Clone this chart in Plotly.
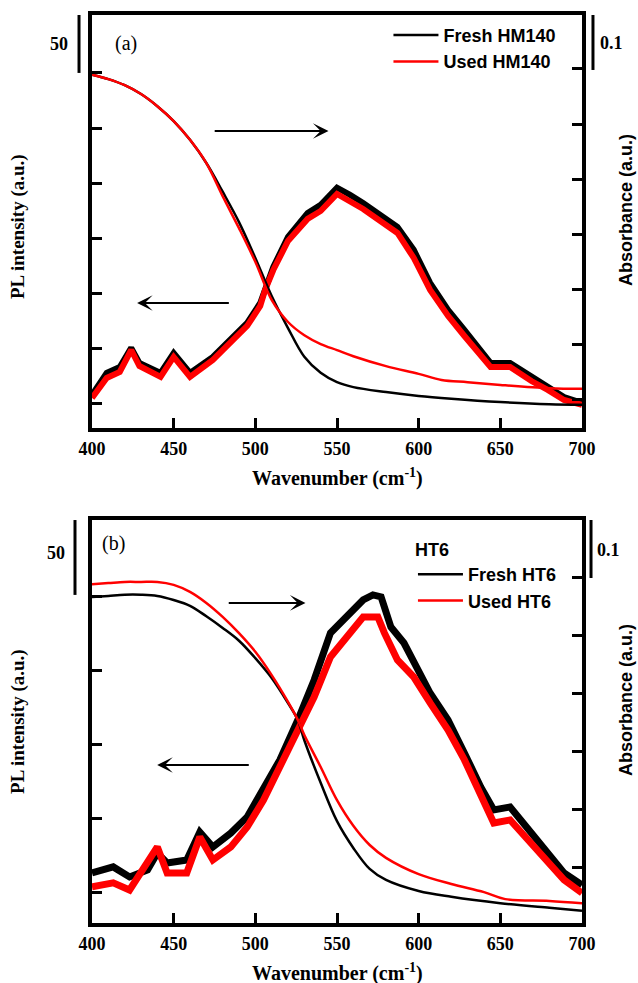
import plotly.graph_objects as go
from plotly.subplots import make_subplots

SERIF = "Liberation Serif, Times New Roman, serif"
SANS = "Liberation Sans, Arial, sans-serif"
RED = "rgb(255,0,0)"
BLACK = "black"

# ---------------- Panel (a) : HM140 ----------------
a_abs_fresh_w = [400, 410, 420, 430, 440, 450, 460, 470, 480, 490, 500, 510, 520, 530, 540, 550, 560, 580, 600, 620, 650, 680, 700]
a_abs_fresh = [0.640, 0.632, 0.621, 0.605, 0.583, 0.556, 0.522, 0.480, 0.428, 0.373, 0.308, 0.239, 0.181, 0.129, 0.100, 0.083, 0.074, 0.065, 0.058, 0.053, 0.047, 0.043, 0.042]
a_abs_used_w = [400, 410, 420, 430, 440, 450, 460, 470, 480, 490, 500, 510, 520, 530, 540, 550, 560, 580, 600, 614, 630, 650, 680, 700]
a_abs_used = [0.640, 0.632, 0.621, 0.605, 0.583, 0.556, 0.522, 0.480, 0.420, 0.362, 0.301, 0.232, 0.192, 0.168, 0.152, 0.141, 0.130, 0.112, 0.098, 0.087, 0.083, 0.078, 0.072, 0.071]

a_pl_w = [400, 409, 417, 424, 429, 442, 450, 460, 474, 485, 495, 503, 506, 511, 520, 532, 540, 550, 558, 566, 587, 597, 607, 618, 628, 638, 644, 656, 669, 679, 689, 700]
a_pl_fresh = [8.2, 28.1, 33.5, 50.8, 37.2, 28.1, 46.2, 28.1, 42.6, 58.0, 73.4, 91.5, 105.1, 124.2, 151.4, 173.1, 180.4, 196.0, 189.5, 182.2, 160.4, 139.6, 109.7, 85.2, 67.1, 48.9, 37.2, 37.2, 24.5, 15.4, 6.3, 0.9]
a_pl_used = [5.4, 23.6, 29.0, 48.9, 34.4, 24.5, 42.6, 24.5, 39.9, 55.3, 70.7, 88.8, 103.3, 121.4, 147.7, 167.7, 174.9, 190.3, 184.0, 176.7, 155.0, 132.3, 103.3, 79.8, 61.6, 45.3, 33.5, 33.5, 20.8, 12.7, 3.6, -0.9]

# ---------------- Panel (b) : HT6 ----------------
b_abs_fresh_w = [400, 410, 420, 430, 440, 450, 460, 470, 480, 490, 500, 510, 520, 526, 530, 540, 550, 560, 570, 580, 600, 620, 650, 680, 700]
b_abs_fresh = [0.560, 0.562, 0.564, 0.564, 0.562, 0.555, 0.545, 0.527, 0.507, 0.485, 0.455, 0.421, 0.378, 0.349, 0.314, 0.241, 0.175, 0.129, 0.093, 0.074, 0.055, 0.045, 0.034, 0.026, 0.021]
b_abs_used_w = [400, 410, 420, 430, 440, 450, 460, 470, 480, 490, 500, 510, 520, 526, 530, 540, 550, 560, 570, 580, 600, 620, 640, 653, 680, 700]
b_abs_used = [0.582, 0.584, 0.586, 0.586, 0.586, 0.581, 0.569, 0.550, 0.526, 0.498, 0.466, 0.426, 0.380, 0.349, 0.323, 0.268, 0.211, 0.167, 0.134, 0.112, 0.084, 0.067, 0.053, 0.041, 0.038, 0.034]

b_pl_fresh_w = [400, 413, 423, 434, 440, 446, 458, 466, 474, 485, 495, 505, 515, 526, 536, 546, 556, 566, 572, 577, 583, 591, 607, 618, 628, 638, 646, 656, 669, 679, 689, 700]
b_pl_fresh = [13.5, 17.6, 10.8, 15.5, 27.0, 20.3, 22.3, 41.2, 31.1, 40.5, 51.4, 69.6, 89.9, 116.9, 143.9, 175.7, 186.5, 198.0, 201.4, 200.0, 179.7, 168.9, 135.1, 116.9, 94.6, 71.6, 56.1, 58.1, 40.5, 27.0, 13.5, 5.4]
b_pl_used_w = [400, 413, 423, 440, 446, 458, 466, 474, 485, 495, 505, 515, 526, 536, 546, 556, 566, 575, 579, 587, 597, 607, 618, 628, 638, 646, 656, 669, 679, 689, 700]
b_pl_used = [4.1, 6.8, 2.0, 31.1, 13.5, 13.5, 37.8, 22.3, 31.1, 44.6, 62.8, 85.1, 110.1, 132.4, 159.5, 173.0, 186.5, 186.5, 175.7, 157.4, 145.9, 128.4, 110.1, 89.9, 67.6, 47.3, 49.3, 33.8, 20.3, 8.8, 0.0]

x_ticks = [400, 450, 500, 550, 600, 650, 700]

fig = make_subplots(rows=2, cols=1, specs=[[{"secondary_y": True}], [{"secondary_y": True}]])

# panel a: PL (left axis, noisy) and absorbance (right axis)
fig.add_trace(go.Scatter(x=a_pl_w, y=a_pl_fresh, mode="lines", line=dict(color=BLACK, width=6),
                         showlegend=False), row=1, col=1, secondary_y=False)
fig.add_trace(go.Scatter(x=a_pl_w, y=a_pl_used, mode="lines", line=dict(color=RED, width=6),
                         showlegend=False), row=1, col=1, secondary_y=False)
fig.add_trace(go.Scatter(x=a_abs_fresh_w, y=a_abs_fresh, mode="lines", name="Fresh HM140",
                         line=dict(color=BLACK, width=2.5, shape="spline"), legend="legend"),
              row=1, col=1, secondary_y=True)
fig.add_trace(go.Scatter(x=a_abs_used_w, y=a_abs_used, mode="lines", name="Used HM140",
                         line=dict(color=RED, width=2.5, shape="spline"), legend="legend"),
              row=1, col=1, secondary_y=True)

# panel b
fig.add_trace(go.Scatter(x=b_pl_fresh_w, y=b_pl_fresh, mode="lines", line=dict(color=BLACK, width=7),
                         showlegend=False), row=2, col=1, secondary_y=False)
fig.add_trace(go.Scatter(x=b_pl_used_w, y=b_pl_used, mode="lines", line=dict(color=RED, width=7),
                         showlegend=False), row=2, col=1, secondary_y=False)
fig.add_trace(go.Scatter(x=b_abs_fresh_w, y=b_abs_fresh, mode="lines", name="Fresh HT6",
                         line=dict(color=BLACK, width=2.5, shape="spline"), legend="legend2"),
              row=2, col=1, secondary_y=True)
fig.add_trace(go.Scatter(x=b_abs_used_w, y=b_abs_used, mode="lines", name="Used HT6",
                         line=dict(color=RED, width=2.5, shape="spline"), legend="legend2"),
              row=2, col=1, secondary_y=True)

TOP_DOM = [0.5452, 1.0]
BOT_DOM = [0.0, 0.4438]

xcommon = dict(range=[400, 700], tickvals=x_ticks, ticks="inside", ticklen=10, tickwidth=3,
               tickcolor=BLACK, showline=True, linewidth=4, linecolor=BLACK, mirror=True,
               showgrid=False, zeroline=False, ticklabelstandoff=1,
               tickfont=dict(family=SERIF, size=18, color=BLACK, weight="bold"))
fig.update_layout(xaxis=dict(domain=[0, 1], **xcommon), xaxis2=dict(domain=[0, 1], **xcommon))

ycommon = dict(ticks="inside", ticklen=10, tickwidth=3, tickcolor=BLACK, showticklabels=False,
               showgrid=False, zeroline=False)
fig.update_layout(
    yaxis=dict(domain=TOP_DOM, range=[-21.75, 352.5], tickvals=[0, 50, 100, 150, 200, 250, 300],
               showline=True, linewidth=4, linecolor=BLACK, mirror=True, **ycommon),
    yaxis2=dict(range=[0, 0.7482], tick0=0.0507, dtick=0.1, showline=False, **ycommon),
    yaxis3=dict(domain=BOT_DOM, range=[-20.3, 252.0], tickvals=[0, 50, 100, 150, 200],
                showline=True, linewidth=4, linecolor=BLACK, mirror=True, **ycommon),
    yaxis4=dict(range=[0, 0.6924], tick0=0.0945, dtick=0.1, showline=False, **ycommon),
)

legfont = dict(family=SANS, size=18, color=BLACK, weight="bold")
fig.update_layout(
    legend=dict(x=0.605, y=0.998, xanchor="left", yanchor="top", font=legfont,
                bgcolor="rgba(0,0,0,0)", itemwidth=45, tracegroupgap=0),
    legend2=dict(x=0.655, y=0.430, xanchor="left", yanchor="top", font=legfont,
                 bgcolor="rgba(0,0,0,0)", itemwidth=45, tracegroupgap=0,
                 title=dict(text="HT6", font=legfont)),
)

# scale bars
shapes = [
    dict(type="line", xref="paper", yref="y", x0=-0.0265, x1=-0.0265, y0=300, y1=352.5,
         line=dict(color=BLACK, width=3)),
    dict(type="line", xref="paper", yref="y2", x0=1.0224, x1=1.0224, y0=0.6486, y1=0.7482,
         line=dict(color=BLACK, width=3)),
    dict(type="line", xref="paper", yref="y3", x0=-0.0347, x1=-0.0347, y0=201.4, y1=252.0,
         line=dict(color=BLACK, width=3)),
    dict(type="line", xref="paper", yref="y4", x0=1.0184, x1=1.0184, y0=0.5928, y1=0.6959,
         line=dict(color=BLACK, width=3)),
]
fig.update_layout(shapes=shapes)

bser = dict(family=SERIF, size=18, color=BLACK, weight="bold")
ann = []
def txt(x, y, t, font, angle=0):
    ann.append(dict(xref="paper", yref="paper", x=x, y=y, text=t, showarrow=False,
                    xanchor="center", yanchor="middle", font=font, textangle=angle))

txt(0.0694, 0.9681, "(a)", dict(family=SERIF, size=20, color=BLACK))
txt(0.0429, 0.4185, "(b)", dict(family=SERIF, size=20, color=BLACK))
txt(-0.0673, 0.9681, "50", bser)
txt(-0.0735, 0.4075, "50", bser)
txt(1.0592, 0.9692, "0.1", bser)
txt(1.0551, 0.4108, "0.1", bser)
txt(-0.151, 0.7665, "PL intensity (a.u.)", dict(family=SERIF, size=19, color=BLACK, weight="bold"), -90)
txt(-0.151, 0.2214, "PL intensity (a.u.)", dict(family=SERIF, size=19, color=BLACK, weight="bold"), -90)
txt(1.0898, 0.7852, "Absorbance (a.u.)", dict(family=SANS, size=18, color=BLACK, weight="bold"), -90)
txt(1.0898, 0.2456, "Absorbance (a.u.)", dict(family=SANS, size=18, color=BLACK, weight="bold"), -90)
txt(0.5, 0.4901, "Wavenumber (cm<sup>-1</sup>)", dict(family=SERIF, size=20, color=BLACK, weight="bold"))
txt(0.5, -0.054, "Wavenumber (cm<sup>-1</sup>)", dict(family=SERIF, size=20, color=BLACK, weight="bold"))

# arrows (head at x/y, tail at ax/ay in data coordinates)
def arrow(xr, yr, xh, yh, xt, yt):
    ann.append(dict(xref=xr, yref=yr, axref=xr, ayref=yr, x=xh, y=yh, ax=xt, ay=yt, text="",
                    showarrow=True, arrowhead=3, arrowsize=1.3, arrowwidth=2, arrowcolor=BLACK))

arrow("x", "y", 544.8, 247.4, 474.2, 247.4)
arrow("x", "y", 427.6, 91.5, 484.7, 91.5)
arrow("x2", "y3", 530.7, 196.0, 482.8, 196.0)
arrow("x2", "y3", 439.9, 86.5, 496.9, 86.5)

fig.update_layout(annotations=ann, width=638, height=983,
                  margin=dict(l=92, r=56, t=15, b=60),
                  plot_bgcolor="white", paper_bgcolor="white")

fig.write_html("out.html", config={"displayModeBar": False},
               post_script="document.body.style.margin='0px';document.body.style.overflow='hidden';")
